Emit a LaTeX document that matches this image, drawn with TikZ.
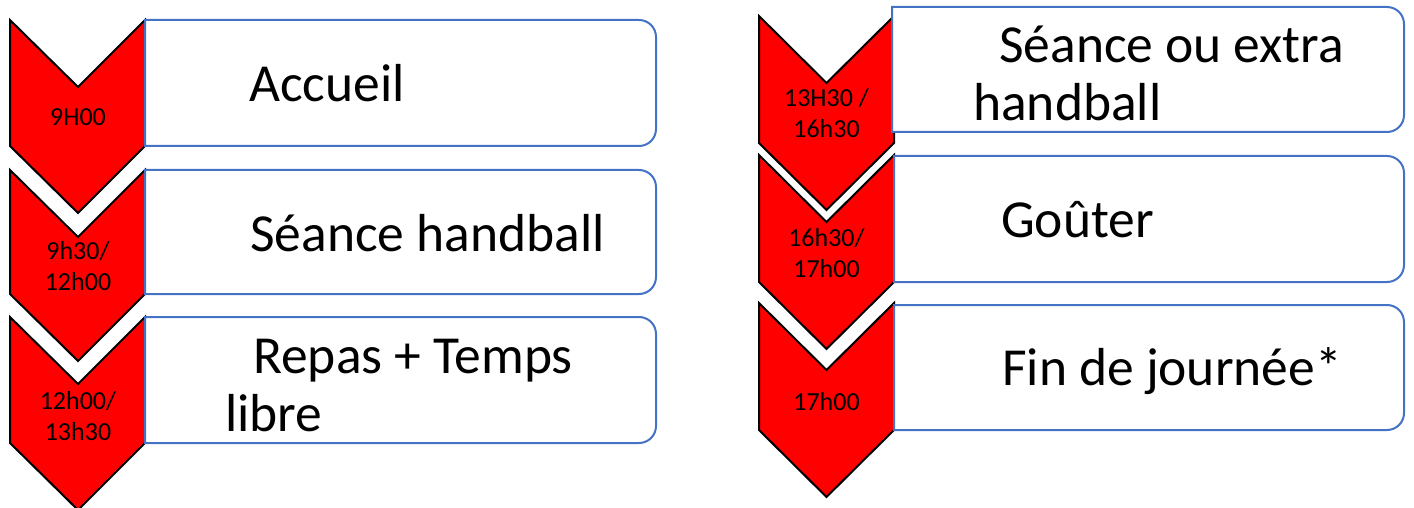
\documentclass[tikz,border=0pt]{standalone}
\usepackage{fontspec}
\setmainfont{Carlito}
\usetikzlibrary{positioning}
\definecolor{chevred}{RGB}{255,0,0}
\definecolor{boxblue}{RGB}{68,114,196}

\begin{document}
\begin{tikzpicture}[x=1pt,y=-1pt,
  chev/.style={fill=chevred,draw=black,line width=2pt,line join=miter},
  box/.style={fill=white,draw=boxblue,line width=2pt},
  big/.style={font=\fontsize{53.5}{58}\selectfont,inner sep=0pt,anchor=base west},
  small/.style={font=\fontsize{26}{31}\selectfont,inner sep=0pt,align=center,anchor=base}]
\useasboundingbox (0,0) rectangle (1414,508);
\def\d{67}
\def\r{17}

% left column
\def\xa{10};
\def\xb{78};
\def\xc{145};
\def\xd{656};

\filldraw[chev] (\xa,20) -- (\xb,20+\d) -- (\xc,20) -- (\xc,146) -- (\xb,146+\d) -- (\xa,146) -- cycle;
\filldraw[chev] (\xa,170) -- (\xb,170+\d) -- (\xc,170) -- (\xc,294) -- (\xb,294+\d) -- (\xa,294) -- cycle;
\filldraw[chev] (\xa,317) -- (\xb,317+\d) -- (\xc,317) -- (\xc,443) -- (\xb,443+\d) -- (\xa,443) -- cycle;

\filldraw[box] (\xc,20) [rounded corners=\r] -- (\xd,20) -- (\xd,146) [sharp corners] -- (\xc,146) -- cycle;
\filldraw[box] (\xc,170) [rounded corners=\r] -- (\xd,170) -- (\xd,294) [sharp corners] -- (\xc,294) -- cycle;
\filldraw[box] (\xc,317) [rounded corners=\r] -- (\xd,317) -- (\xd,443) [sharp corners] -- (\xc,443) -- cycle;

% the base of a two-line node is its last line
\node[small] (t1) at (\xb,126) {9H00};
\node[small] (t2) at (\xb,290) {9h30/\\12h00};
\node[small] (t3) at (\xb,440) {12h00/\\13h30};

\node[big] (acc) at (249,101.5) {Accueil};
\node[big] (sea) at (250,251) {Séance handball};
\node[big] (rep) at (253,373) {Repas + Temps};
\node[big] (lib) at (225,431) {libre};

% right column
\def\xxa{759};
\def\xxb{826.5};
\def\xxc{894};
\def\xxd{1404};

\filldraw[chev] (\xxa,16) -- (\xxb,16+\d) -- (\xxc,16) -- (\xxc,143) -- (\xxb,143+\d) -- (\xxa,143) -- cycle;
\filldraw[chev] (\xxa,155) -- (\xxb,155+\d) -- (\xxc,155) -- (\xxc,282) -- (\xxb,282+\d) -- (\xxa,282) -- cycle;
\filldraw[chev] (\xxa,303) -- (\xxb,303+\d) -- (\xxc,303) -- (\xxc,430) -- (\xxb,430+\d) -- (\xxa,430) -- cycle;

\filldraw[box] (\xxc-2,7) [rounded corners=\r] -- (\xxd,7) -- (\xxd,132) [sharp corners] -- (\xxc-2,132) -- cycle;
\filldraw[box] (\xxc,156) [rounded corners=\r] -- (\xxd,156) -- (\xxd,282) [sharp corners] -- (\xxc,282) -- cycle;
\filldraw[box] (\xxc,305) [rounded corners=\r] -- (\xxd,305) -- (\xxd,430) [sharp corners] -- (\xxc,430) -- cycle;

\node[small] (u1) at (\xxb,138) {13H30 /\\16h30};
\node[small] (u2) at (\xxb,277) {16h30/\\17h00};
\node[small] (u3) at (\xxb,410) {17h00};

\node[big] (sex) at (999,62.5) {Séance ou extra};
\node[big] (han) at (973,121) {handball};
\node[big] (gou) at (1001,237) {Goûter};
\node[big] (fin) at (1002,385) {Fin de journée*};

\end{tikzpicture}
\end{document}
